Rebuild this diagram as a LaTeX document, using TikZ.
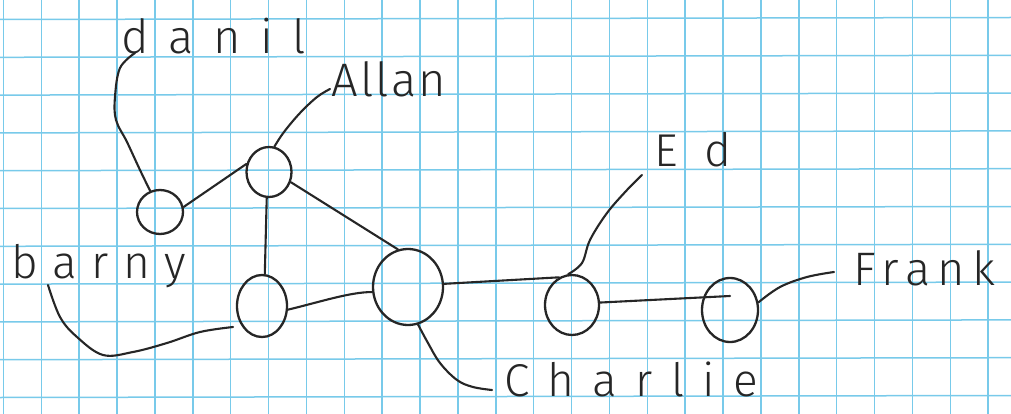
\documentclass[tikz,border=0pt]{standalone}
\usepackage{fontspec}
\newfontfamily\hand{Fira Sans Light}
\usetikzlibrary{shapes.geometric,calc}
\definecolor{gridblue}{RGB}{120,202,234}
\definecolor{pencil}{RGB}{38,38,38}
\begin{document}
\begin{tikzpicture}[x=1pt,y=-1pt,
  gridline/.style={draw=gridblue,line width=1.5pt},
  pen/.style={draw=pencil,line width=2.1pt,line cap=round,line join=round},
  vert/.style={ellipse,draw=pencil,line width=2.3pt,inner sep=0pt},
  lab/.style={text=pencil,inner sep=0pt,anchor=base west}]
\useasboundingbox (0,0) rectangle (1011,414);
\fill[white] (0,0) rectangle (1011,414);
% grid paper
\foreach \i in {0,...,26} \draw[gridline] ({3.5+37.87*\i},0) -- ({3.5+37.87*\i},414);
\foreach \j in {0,...,10} \draw[gridline] (0,{19.5+37.8*\j}) -- (1011,{17.5+37.8*\j});
% vertices
\node[vert,minimum width=46pt,minimum height=44pt] (D) at (160,212) {};
\node[vert,minimum width=45pt,minimum height=50pt] (A) at (269,172) {};
\node[vert,minimum width=50pt,minimum height=62pt] (B) at (262,306) {};
\node[vert,minimum width=70pt,minimum height=76pt] (C) at (408,287) {};
\node[vert,minimum width=54pt,minimum height=60pt] (E) at (572,305) {};
\node[vert,minimum width=56pt,minimum height=64pt] (F) at (730,310) {};
% labels
\node[lab,font={\hand\fontsize{47pt}{47pt}\selectfont\addfontfeatures{LetterSpace=42}}] (dl) at (121,54) {danil};
\node[lab,font={\hand\fontsize{47pt}{47pt}\selectfont\addfontfeatures{LetterSpace=5}}] (al) at (331,97) {Allan};
\node[lab,font={\hand\fontsize{46pt}{46pt}\selectfont\addfontfeatures{LetterSpace=32}}] (bl) at (11,278) {barny};
\node[lab,font={\hand\fontsize{46pt}{46pt}\selectfont\addfontfeatures{LetterSpace=40}}] (cl) at (504,396) {Charlie};
\node[lab,font={\hand\fontsize{46pt}{46pt}\selectfont\addfontfeatures{LetterSpace=60}}] (el) at (654,167) {Ed};
\node[lab,font={\hand\fontsize{47pt}{47pt}\selectfont\addfontfeatures{LetterSpace=16}}] (fl) at (853,285) {Frank};
% edges
\draw[pen] (D.12) -- (A.160);
\draw[pen] (A.265) -- (B.85);
\draw[pen] (A.-25) -- (C.105);
\draw[pen] (B.-8) .. controls (320,302) and (350,292) .. (C.188);
\draw[pen] (C.5) -- (E.115);
\draw[pen] (E.5) -- ($(F.center)+(0,-14)$);
% label leaders
\coordinate (dls) at (135,53);
\coordinate (als) at (330,89);
\coordinate (bls) at (48,285);
\coordinate (cls) at (492,390);
\coordinate (els) at (642,175);
\coordinate (fls) at (834,272);
\draw[pen] plot[smooth,tension=0.6] coordinates {(dls) (120,68) (115,97) (116,120) (127,142) (140,170) (D.115)};
\draw[pen] plot[smooth,tension=0.6] coordinates {(als) (317,97) (300,113) (284,132) (A.78)};
\draw[pen] plot[smooth,tension=0.6] coordinates {(bls) (60,317) (77,337) (103,355) (133,352) (167,343) (200,332) (233,327)};
\draw[pen] plot[smooth,tension=0.6] coordinates {(C.-75) (428,343) (440,363) (457,380) (473,387) (cls)};
\draw[pen] plot[smooth,tension=0.6] coordinates {(els) (627,190) (607,213) (590,240) (582,263) (E.97)};
\draw[pen] plot[smooth,tension=0.6] coordinates {(fls) (807,277) (780,287) (F.15)};
\end{tikzpicture}
\end{document}
